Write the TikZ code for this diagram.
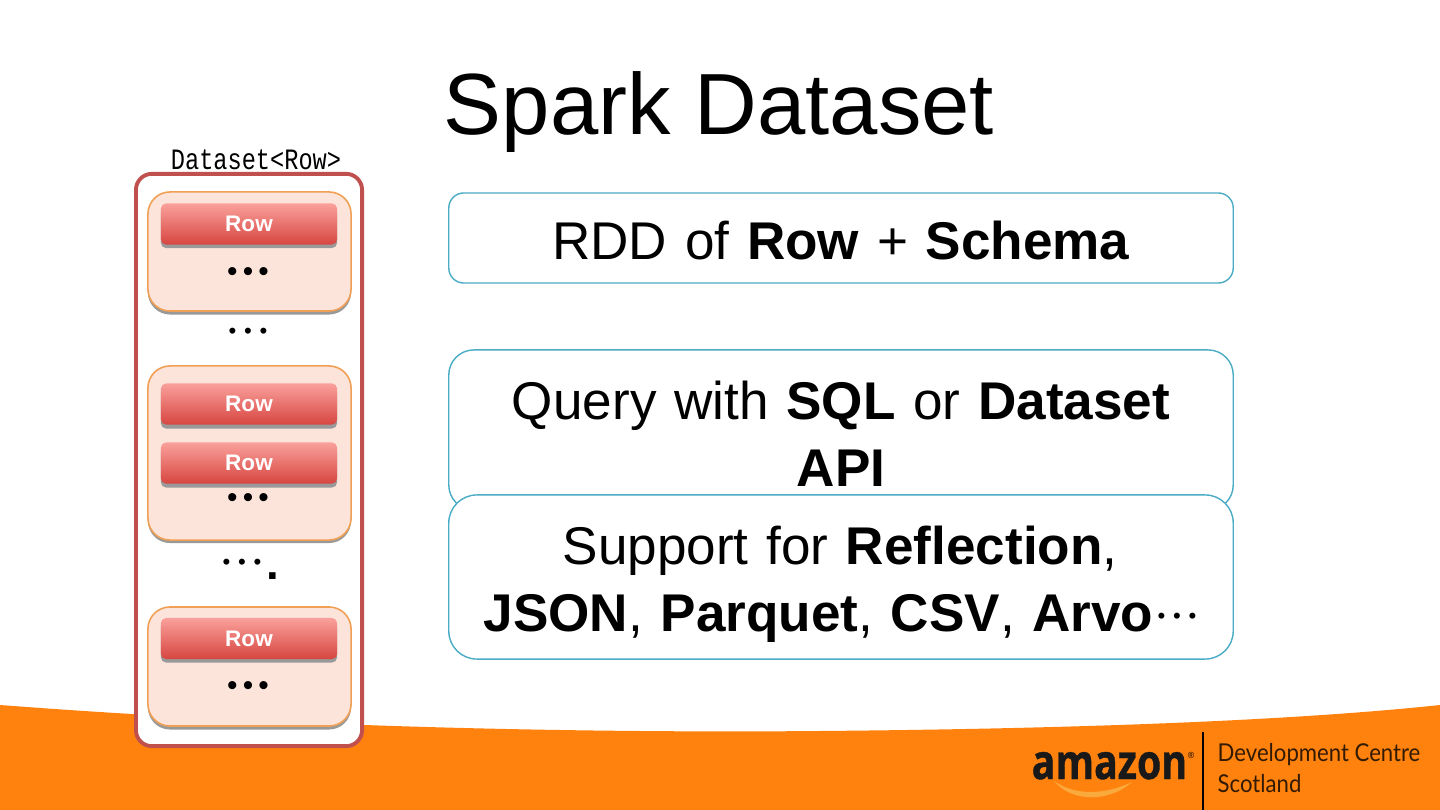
\documentclass[tikz,border=0pt]{standalone}
\usepackage{fontspec}
\setmainfont{Liberation Sans}
\setmonofont[FakeStretch=0.8]{Liberation Mono}
\newfontfamily\logofont[FakeStretch=0.9]{Lato}
\newfontfamily\amzfont[FakeStretch=0.81,FakeBold=0.8]{Open Sans}
\definecolor{awsorange}{RGB}{255,130,14}
\definecolor{awssmile}{RGB}{250,170,60}
\definecolor{setred}{RGB}{192,80,77}
\definecolor{grpfill}{RGB}{253,228,218}
\definecolor{grpline}{RGB}{240,160,85}
\definecolor{rowtop}{RGB}{250,160,155}
\definecolor{rowbot}{RGB}{215,70,65}
\definecolor{infoline}{RGB}{75,172,198}
\usetikzlibrary{positioning}
\newcommand{\bigbullets}{•\kern1.45pt•\kern1.45pt•}
\newcommand{\smallbullets}{•\kern2.2pt•\kern2.2pt•}

\begin{document}
\begin{tikzpicture}[
  x=0.01cm,y=-0.01cm,
  grp/.style={draw=grpline,line width=0.45pt,fill=grpfill,rounded corners=0.22cm,minimum width=2.03cm},
  grpshade/.style={fill=black!40,rounded corners=0.22cm,minimum width=2.03cm},
  rowbox/.style={rounded corners=0.05cm,top color=rowtop,bottom color=rowbot,minimum width=1.76cm,minimum height=0.41cm,
    text=white,font=\fontsize{6.4pt}{7pt}\selectfont\bfseries,inner sep=0pt},
  rowshade/.style={fill=black!40,rounded corners=0.05cm,minimum width=1.76cm,minimum height=0.41cm},
  info/.style={draw=infoline,line width=0.4pt,fill=white,minimum width=7.84cm},
  infotxt/.style={font=\fontsize{15.1pt}{19.1pt}\selectfont,align=center,text width=7.7cm,inner sep=0pt},
  bigdots/.style={font=\fontsize{8.5pt}{10pt}\selectfont,inner sep=0pt},
  smalldots/.style={font=\fontsize{6.3pt}{8pt}\selectfont,inner sep=0pt}
]
  \useasboundingbox (0,0) rectangle (1440,810);
  \fill[white] (0,0) rectangle (1440,810);
  % footer
  \fill[awsorange] (0,705) .. controls (300,728) and (600,733) .. (820,731) .. controls (1050,729) and (1280,722) .. (1440,705) -- (1440,810) -- (0,810) -- cycle;
  \node[font=\fontsize{24.7pt}{26pt}\selectfont,inner sep=0pt] (title) at (719,112) {Spark Dataset};
  % dataset column
  \node[font=\ttfamily\fontsize{8.4pt}{9pt}\selectfont,inner sep=0pt] (dslabel) at (256,160) {Dataset<Row>};
  \node[draw=setred,line width=1.1pt,fill=white,rounded corners=0.16cm,minimum width=2.26cm,minimum height=5.72cm] (dsbox) at (249,460) {};
  \node[grpshade,minimum height=1.19cm] (grpaS) at (249.5,255) {};
  \node[grp,minimum height=1.19cm] (grpa) at (249.5,251.5) {};
  \node[grpshade,minimum height=1.74cm] (grpbS) at (249.5,456) {};
  \node[grp,minimum height=1.74cm] (grpb) at (249.5,453) {};
  \node[grpshade,minimum height=1.19cm] (grpcS) at (249.5,670) {};
  \node[grp,minimum height=1.19cm] (grpc) at (249.5,666.5) {};
  \node[rowshade] (rowaS) at (249,227.5) {};
  \node[rowbox] (rowa) at (249,224) {Row};
  \node[rowshade] (rowbS) at (249,408) {};
  \node[rowbox] (rowb) at (249,404) {Row};
  \node[rowshade] (rowcS) at (249,467) {};
  \node[rowbox] (rowc) at (249,463) {Row};
  \node[rowshade] (rowdS) at (249,642) {};
  \node[rowbox] (rowd) at (249,638.5) {Row};
  \node[bigdots] (dotsa) at (248,275) {\bigbullets};
  \node[smalldots] (dotsb) at (248,333) {\smallbullets};
  \node[bigdots] (dotsc) at (248,501) {\bigbullets};
  \node[smalldots] (dotsd) at (242,564) {\smallbullets};
  \node[font=\bfseries\fontsize{13pt}{14pt}\selectfont,inner sep=0pt,anchor=base] (dotse) at (273,580) {.};
  \node[bigdots] (dotsf) at (248,689) {\bigbullets};
  % info boxes
  \node[info,rounded corners=0.15cm,minimum height=0.9cm] (infoa) at (841,238) {};
  \node[infotxt] at (841,241) {RDD of \textbf{Row} + \textbf{Schema}};
  \node[info,rounded corners=0.25cm,minimum height=1.6cm] (infob) at (841,430) {};
  \node[infotxt] at (841,434) {Query with \textbf{SQL} or \textbf{Dataset}\\\textbf{API}};
  \node[info,rounded corners=0.28cm,minimum height=1.64cm] (infoc) at (841,577) {};
  \node[infotxt] at (840,584.5) {Support for \textbf{Reflection},\\\textbf{JSON}, \textbf{Parquet}, \textbf{CSV}, \textbf{Arvo}{\fontsize{6.3pt}{8pt}\selectfont\kern1.2pt\raisebox{2.4pt}{\smallbullets}}};
  % logo
  \node[font=\amzfont\bfseries\fontsize{13.8pt}{15pt}\selectfont,inner sep=0pt,anchor=base west,text=black!90] (amazon) at (1031,779) {amazon};
  \node[font=\fontsize{2.5pt}{3pt}\selectfont,inner sep=0pt] (regmark) at (1191,755) {®};
  \fill[awssmile] (1054,781) .. controls (1075,796) and (1105,795) .. (1132,782) .. controls (1110,802) and (1072,803) .. (1054,781) -- cycle;
  \coordinate (sepa) at (1203,732);
  \coordinate (sepb) at (1203,810);
  \draw[line width=0.4pt,black] (sepa) -- (sepb);
  \node[font=\logofont\fontsize{7pt}{8.8pt}\selectfont,align=left,anchor=north west,inner sep=0pt,text=black!80!awsorange] (dcs) at (1217,743) {Development Centre\\Scotland};
\end{tikzpicture}
\end{document}
